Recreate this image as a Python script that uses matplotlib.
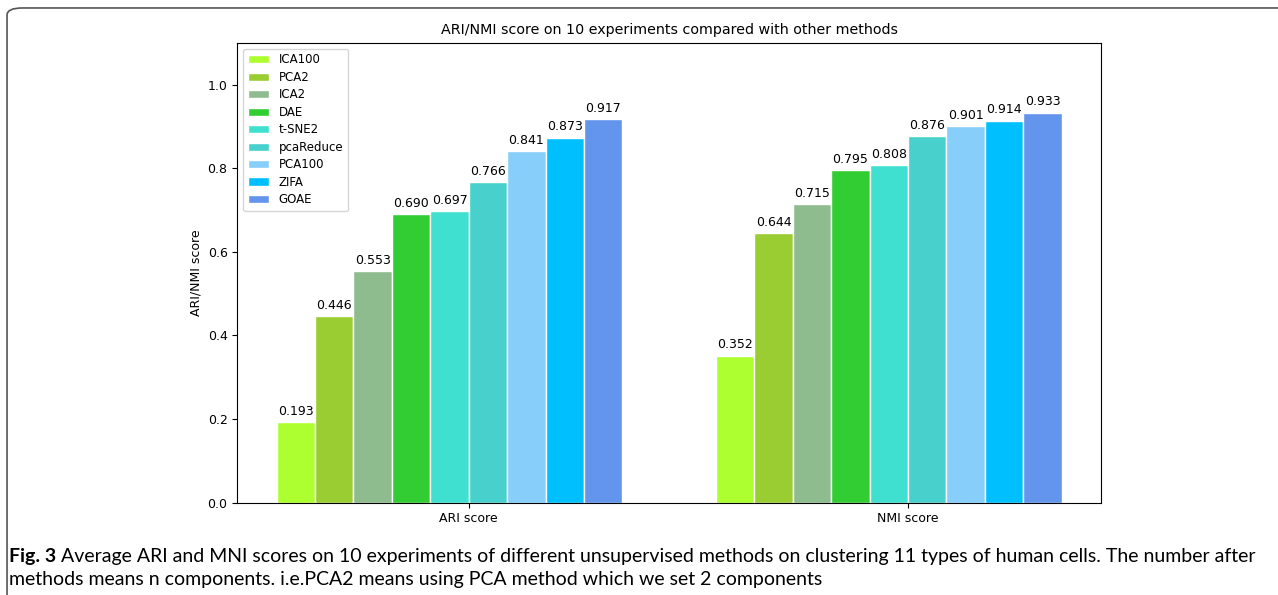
import numpy as np
import matplotlib
matplotlib.use("Agg")
import matplotlib.pyplot as plt
from matplotlib.patches import FancyBboxPatch

methods = ["ICA100", "PCA2", "ICA2", "DAE", "t-SNE2", "pcaReduce", "PCA100", "ZIFA", "GOAE"]
colors = ["greenyellow", "yellowgreen", "darkseagreen", "limegreen", "turquoise",
          "mediumturquoise", "lightskyblue", "deepskyblue", "cornflowerblue"]
ari_scores = [0.193, 0.446, 0.553, 0.690, 0.697, 0.766, 0.841, 0.873, 0.917]
nmi_scores = [0.352, 0.644, 0.715, 0.795, 0.808, 0.876, 0.901, 0.914, 0.933]
group_labels = ["ARI score", "NMI score"]

fig = plt.figure(figsize=(12.78, 5.95), dpi=100)
ax = fig.add_axes([0.1857, 0.1551, 0.6758, 0.7731])

x = np.arange(len(group_labels))
width = 0.0875
for i, (name, c) in enumerate(zip(methods, colors)):
    vals = [ari_scores[i], nmi_scores[i]]
    bars = ax.bar(x + i * width, vals, width, color=c, edgecolor="white",
                  linewidth=1, label=name)
    for b, v in zip(bars, vals):
        ax.annotate("%.3f" % v, xy=(b.get_x() + b.get_width() / 2, v),
                    xytext=(0, 3), textcoords="offset points",
                    ha="center", va="bottom", fontsize=9)

ax.set_xticks(x + 4.5 * width)
ax.set_xticklabels(group_labels, fontsize=9)
ax.set_ylim(0, 1.1)
ax.set_yticks(np.arange(0, 1.01, 0.2))
ax.tick_params(axis="y", labelsize=9)
ax.set_ylabel("ARI/NMI score", fontsize=9)
ax.set_title("ARI/NMI score on 10 experiments compared with other methods", fontsize=10.3)
ax.legend(loc="upper left", fontsize=8.5, labelspacing=0.38, handlelength=1.8)

# rounded frame around the figure panel
frame = FancyBboxPatch((0.0055, -0.1), 1.2, 1.0866, transform=fig.transFigure,
                       boxstyle="round,pad=0,rounding_size=0.012",
                       facecolor="none", edgecolor="#555555", linewidth=1.2,
                       clip_on=False)
fig.patches.append(frame)

# caption below the chart
cap_font = "Lato"
cap_size = 14.0
lead = fig.text(0.0068, 0.051, "Fig. 3", fontsize=cap_size, fontweight="bold",
                family=cap_font, va="bottom")
ax.annotate("Average ARI and MNI scores on 10 experiments of different unsupervised "
            "methods on clustering 11 types of human cells. The number after",
            xy=(1, 0), xycoords=lead, xytext=(4, 0), textcoords="offset points",
            fontsize=cap_size, family=cap_font, va="bottom", ha="left",
            annotation_clip=False)
fig.text(0.0068, 0.012, "methods means n components. i.e.PCA2 means using PCA method "
         "which we set 2 components", fontsize=cap_size, family=cap_font, va="bottom")

fig.savefig("out.png", dpi=100)
